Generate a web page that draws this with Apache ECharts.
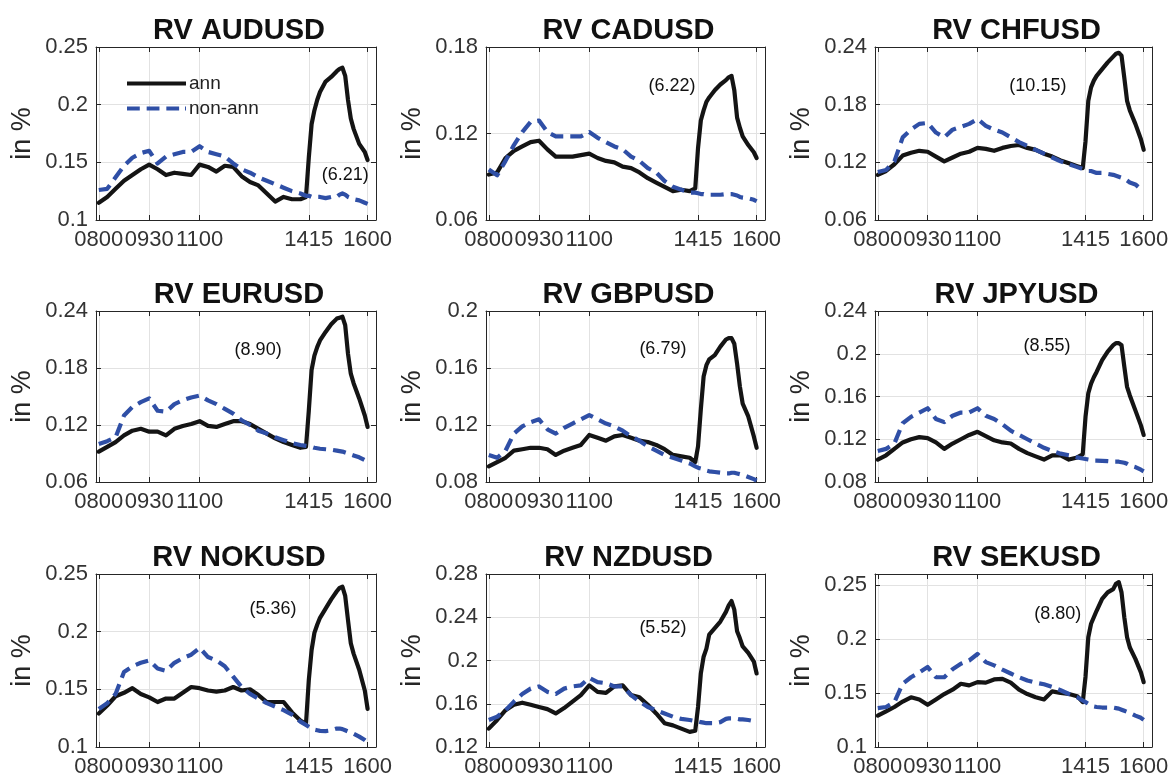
<!DOCTYPE html>
<html><head><meta charset="utf-8">
<script src="https://cdn.jsdelivr.net/npm/echarts@6/dist/echarts.min.js"></script>
<style>html,body{margin:0;padding:0;background:#fff}#c{width:1173px;height:780px}</style>
</head><body><div id="c"></div>
<script>
// ---------- data ----------
const titles = ['RV AUDUSD','RV CADUSD','RV CHFUSD','RV EURUSD','RV GBPUSD','RV JPYUSD','RV NOKUSD','RV NZDUSD','RV SEKUSD'];
// x = 5-minute observation index (1 = 08:00, 97 = 16:00)
const xIdx = [1,4,7,10,13,16,19,22,25,28,31,34,37,40,43,46,49,52,55,58,61,64,67,70,73,75,76,77,78,79,80,82,84,86,87,88,89,90,91,92,94,96,97];
const xTickPos = [1,19,37,76,97];
const xTickLabels = ['0800','0930','1100','1415','1600'];

const annAUD = [0.115,0.120,0.127,0.134,0.139,0.144,0.148,0.144,0.139,0.141,0.140,0.139,0.148,0.146,0.142,0.147,0.146,0.138,0.133,0.130,0.123,0.116,0.120,0.118,0.118,0.120,0.154,0.183,0.195,0.204,0.211,0.220,0.224,0.229,0.231,0.232,0.225,0.204,0.188,0.179,0.166,0.159,0.152];
const nonAUD = [0.126,0.127,0.137,0.147,0.154,0.158,0.160,0.149,0.155,0.157,0.159,0.159,0.164,0.159,0.157,0.155,0.149,0.144,0.141,0.137,0.134,0.131,0.128,0.125,0.123,0.121,0.121,0.120,0.120,0.120,0.120,0.119,0.120,0.120,0.122,0.123,0.122,0.120,0.119,0.118,0.117,0.115,0.114];
const annCAD = [0.0915,0.093,0.103,0.108,0.111,0.114,0.115,0.109,0.104,0.104,0.104,0.105,0.106,0.103,0.101,0.100,0.097,0.096,0.093,0.089,0.086,0.083,0.080,0.081,0.080,0.082,0.110,0.129,0.136,0.142,0.145,0.150,0.154,0.157,0.159,0.160,0.150,0.131,0.124,0.118,0.112,0.107,0.103];
const nonCAD = [0.095,0.091,0.101,0.112,0.121,0.128,0.129,0.121,0.118,0.118,0.118,0.118,0.121,0.117,0.114,0.111,0.109,0.104,0.101,0.096,0.093,0.087,0.083,0.081,0.079,0.079,0.0785,0.078,0.078,0.0775,0.0775,0.0775,0.0775,0.078,0.078,0.078,0.0775,0.077,0.076,0.0755,0.075,0.074,0.073];
const annCHF = [0.107,0.111,0.118,0.127,0.130,0.132,0.131,0.126,0.121,0.125,0.129,0.131,0.135,0.134,0.132,0.135,0.137,0.138,0.135,0.133,0.129,0.126,0.122,0.119,0.116,0.114,0.142,0.184,0.198,0.205,0.210,0.217,0.224,0.230,0.233,0.234,0.231,0.208,0.184,0.174,0.160,0.144,0.133];
const nonCHF = [0.110,0.112,0.121,0.146,0.154,0.160,0.161,0.151,0.146,0.154,0.157,0.160,0.165,0.158,0.154,0.151,0.146,0.141,0.137,0.133,0.129,0.125,0.121,0.118,0.115,0.113,0.112,0.111,0.111,0.110,0.109,0.109,0.108,0.107,0.106,0.105,0.104,0.103,0.101,0.099,0.097,0.092,0.090];
const annEUR = [0.092,0.097,0.102,0.109,0.114,0.116,0.113,0.113,0.109,0.116,0.119,0.121,0.124,0.119,0.118,0.121,0.124,0.124,0.121,0.116,0.111,0.106,0.102,0.099,0.096,0.097,0.135,0.178,0.193,0.202,0.209,0.218,0.226,0.232,0.233,0.234,0.225,0.195,0.174,0.164,0.148,0.130,0.118];
const nonEUR = [0.100,0.103,0.107,0.130,0.139,0.144,0.148,0.135,0.134,0.142,0.146,0.149,0.151,0.146,0.142,0.137,0.132,0.125,0.120,0.114,0.111,0.107,0.104,0.101,0.099,0.098,0.0975,0.097,0.096,0.0955,0.095,0.0945,0.094,0.093,0.0925,0.092,0.091,0.090,0.089,0.088,0.086,0.083,0.081];
const annGBP = [0.091,0.094,0.097,0.102,0.103,0.104,0.104,0.103,0.099,0.102,0.104,0.106,0.113,0.111,0.109,0.112,0.113,0.111,0.109,0.108,0.106,0.103,0.099,0.098,0.097,0.094,0.105,0.131,0.154,0.162,0.166,0.169,0.175,0.180,0.181,0.181,0.177,0.163,0.147,0.135,0.126,0.112,0.104];
const nonGBP = [0.099,0.097,0.102,0.114,0.119,0.122,0.124,0.117,0.114,0.118,0.121,0.124,0.127,0.124,0.121,0.119,0.116,0.112,0.109,0.105,0.102,0.099,0.097,0.095,0.093,0.091,0.090,0.0895,0.089,0.088,0.0875,0.087,0.0865,0.086,0.086,0.0865,0.0865,0.086,0.0855,0.085,0.0835,0.082,0.081];
const annJPY = [0.101,0.105,0.111,0.117,0.120,0.122,0.121,0.117,0.111,0.116,0.120,0.124,0.127,0.123,0.119,0.117,0.116,0.111,0.107,0.104,0.101,0.105,0.105,0.101,0.103,0.106,0.141,0.163,0.172,0.178,0.183,0.194,0.202,0.208,0.210,0.210,0.208,0.188,0.169,0.161,0.147,0.133,0.124];
const nonJPY = [0.109,0.111,0.116,0.135,0.141,0.145,0.149,0.139,0.136,0.142,0.145,0.145,0.149,0.142,0.139,0.134,0.128,0.124,0.120,0.116,0.112,0.109,0.1065,0.105,0.103,0.102,0.1015,0.101,0.1005,0.100,0.100,0.0998,0.0995,0.099,0.099,0.099,0.0985,0.098,0.097,0.0955,0.094,0.0915,0.090];
const annNOK = [0.129,0.136,0.144,0.147,0.151,0.146,0.143,0.139,0.142,0.142,0.147,0.152,0.151,0.149,0.148,0.149,0.152,0.149,0.150,0.145,0.139,0.139,0.139,0.130,0.123,0.120,0.158,0.184,0.199,0.206,0.212,0.220,0.228,0.235,0.238,0.239,0.231,0.210,0.190,0.181,0.167,0.149,0.133];
const nonNOK = [0.133,0.138,0.146,0.165,0.170,0.173,0.175,0.168,0.166,0.173,0.177,0.180,0.186,0.178,0.175,0.170,0.161,0.152,0.146,0.142,0.138,0.135,0.132,0.128,0.122,0.119,0.1175,0.116,0.115,0.1145,0.114,0.1138,0.1145,0.116,0.116,0.1155,0.1145,0.1135,0.1125,0.1115,0.109,0.106,0.104];
const annNZD = [0.137,0.145,0.154,0.159,0.161,0.159,0.157,0.155,0.151,0.156,0.162,0.168,0.177,0.171,0.170,0.176,0.177,0.168,0.166,0.159,0.151,0.142,0.140,0.137,0.134,0.135,0.157,0.188,0.2035,0.211,0.224,0.230,0.236,0.245,0.251,0.255,0.247,0.227,0.2205,0.213,0.207,0.199,0.188];
const nonNZD = [0.145,0.148,0.154,0.162,0.169,0.174,0.176,0.171,0.169,0.174,0.176,0.177,0.184,0.180,0.179,0.176,0.176,0.168,0.162,0.157,0.154,0.151,0.148,0.146,0.145,0.144,0.1438,0.143,0.1425,0.142,0.142,0.142,0.143,0.146,0.1465,0.1465,0.146,0.146,0.1455,0.1455,0.145,0.144,0.1435];
const annSEK = [0.129,0.133,0.137,0.142,0.146,0.144,0.139,0.144,0.149,0.153,0.1585,0.157,0.160,0.1595,0.1625,0.163,0.1595,0.153,0.149,0.146,0.144,0.1515,0.150,0.149,0.147,0.1415,0.165,0.2015,0.214,0.220,0.226,0.237,0.243,0.246,0.251,0.2525,0.243,0.220,0.2015,0.192,0.1815,0.169,0.160];
const nonSEK = [0.136,0.137,0.1415,0.1585,0.1645,0.169,0.174,0.1645,0.1645,0.172,0.177,0.180,0.186,0.1785,0.1755,0.1715,0.168,0.1645,0.1615,0.1595,0.158,0.1555,0.1525,0.149,0.146,0.143,0.1415,0.140,0.1385,0.1375,0.137,0.1365,0.1365,0.1365,0.136,0.1355,0.1345,0.1335,0.1325,0.1315,0.129,0.127,0.125];

const annAll = [annAUD,annCAD,annCHF,annEUR,annGBP,annJPY,annNOK,annNZD,annSEK];
const nonAll = [nonAUD,nonCAD,nonCHF,nonEUR,nonGBP,nonJPY,nonNOK,nonNZD,nonSEK];

const yMin  = [0.10,0.06,0.06,0.06,0.08,0.08,0.10,0.12,0.10];
const yMax  = [0.25,0.18,0.24,0.24,0.20,0.24,0.25,0.28,0.26];
const yStep = [0.05,0.06,0.06,0.06,0.04,0.04,0.05,0.04,0.05];

const notes  = ['(6.21)','(6.22)','(10.15)','(8.90)','(6.79)','(8.55)','(5.36)','(5.52)','(8.80)'];
const noteAt = [[89,0.139],[66.7,0.153],[58.8,0.199],[57.9,0.199],[63.4,0.173],[62.1,0.207],[63.2,0.220],[63.4,0.230],[66,0.223]];

// ---------- layout ----------
const FONT = '"Liberation Sans", Arial, Helvetica, sans-serif';
const cols = [{left:96,width:280},{left:486,width:279},{left:875,width:277}];
const rows = [{top:47,height:173},{top:311,height:171},{top:574,height:173}];
const AX = '#262626', GRIDC = '#e2e2e2', BLUE = '#2f4fa6', BLACK = '#141414';

const grid=[], xAxis=[], yAxis=[], series=[], title=[];
for (let p=0;p<9;p++){
  const c = cols[p%3], r = rows[Math.floor(p/3)];
  grid.push({left:c.left, top:r.top, width:c.width, height:r.height, containLabel:false});
  title.push({text:titles[p], left:c.left+c.width/2-2, top:r.top-36, textAlign:'center',
    textStyle:{fontFamily:FONT, fontSize:29, fontWeight:'bold', color:'#111'}});
  const xb = {type:'value', gridIndex:p, min:0, max:100, position:'bottom',
    axisLine:{show:true, onZero:false, lineStyle:{color:AX,width:1}},
    axisTick:{show:true, inside:true, length:5, customValues:xTickPos, lineStyle:{color:AX}},
    axisLabel:{show:true, customValues:xTickPos, margin:9, color:'#333', fontFamily:FONT, fontSize:22,
      formatter:v=>{const k=xTickPos.indexOf(Math.round(v)); return k>=0?xTickLabels[k]:'';}},
    splitLine:{show:true, lineStyle:{color:GRIDC,width:1}}};
  const xt = {type:'value', gridIndex:p, min:0, max:100, position:'top',
    axisLine:{show:true, onZero:false, lineStyle:{color:AX,width:1}},
    axisTick:{show:true, inside:true, length:5, customValues:xTickPos, lineStyle:{color:AX}},
    axisLabel:{show:false, customValues:xTickPos}, splitLine:{show:false}};
  xAxis.push(xb, xt);
  const yl = {type:'value', gridIndex:p, min:yMin[p], max:yMax[p], interval:yStep[p], position:'left',
    name:'in %', nameLocation:'middle', nameGap:60, nameRotate:90,
    nameTextStyle:{fontFamily:FONT, fontSize:27, color:'#262626'},
    axisLine:{show:true, onZero:false, lineStyle:{color:AX,width:1}},
    axisTick:{show:true, inside:true, length:5, lineStyle:{color:AX}},
    axisLabel:{show:true, margin:8, color:'#333', fontFamily:FONT, fontSize:22, showMaxLabel: p===8 ? false : true},
    splitLine:{show:true, lineStyle:{color:GRIDC,width:1}}};
  const yr = {type:'value', gridIndex:p, min:yMin[p], max:yMax[p], interval:yStep[p], position:'right',
    axisLine:{show:true, onZero:false, lineStyle:{color:AX,width:1}},
    axisTick:{show:true, inside:true, length:5, lineStyle:{color:AX}},
    axisLabel:{show:false}, splitLine:{show:false}};
  yAxis.push(yl, yr);
  series.push({type:'line', name:'ann', xAxisIndex:2*p, yAxisIndex:2*p, symbol:'none', showSymbol:false,
    data: xIdx.map((x,i)=>[x, annAll[p][i]]),
    lineStyle:{color:BLACK, width:4.2, join:'round', cap:'round'}, itemStyle:{color:BLACK},
    markPoint:{symbol:'circle', symbolSize:0, silent:true, animation:false,
      label:{show:true, position:'inside', formatter:notes[p], color:'#111', fontFamily:FONT, fontSize:18},
      data:[{coord:noteAt[p]}]}});
  series.push({type:'line', name:'non-ann', xAxisIndex:2*p, yAxisIndex:2*p, symbol:'none', showSymbol:false,
    data: xIdx.map((x,i)=>[x, nonAll[p][i]]),
    lineStyle:{color:BLUE, width:4.2, type:[13,7], join:'round'}, itemStyle:{color:BLUE}});
}

const chart = echarts.init(document.getElementById('c'), null, {renderer:'canvas'});
chart.setOption({
  animation:false, backgroundColor:'#fff',
  title, grid, xAxis, yAxis, series,
  legend:{orient:'vertical', left:122, top:69, itemWidth:59, itemHeight:4, itemGap:6, selectedMode:false,
    data:[
      {name:'ann', icon:'rect'},
      {name:'non-ann', icon:'path://M0,0h13v4h-13z M20,0h13v4h-13z M40,0h13v4h-13z M59,0h1v4h-1z'}
    ],
    textStyle:{fontFamily:FONT, fontSize:19, color:'#222', padding:[0,0,0,-2]}}
});
</script></body></html>
